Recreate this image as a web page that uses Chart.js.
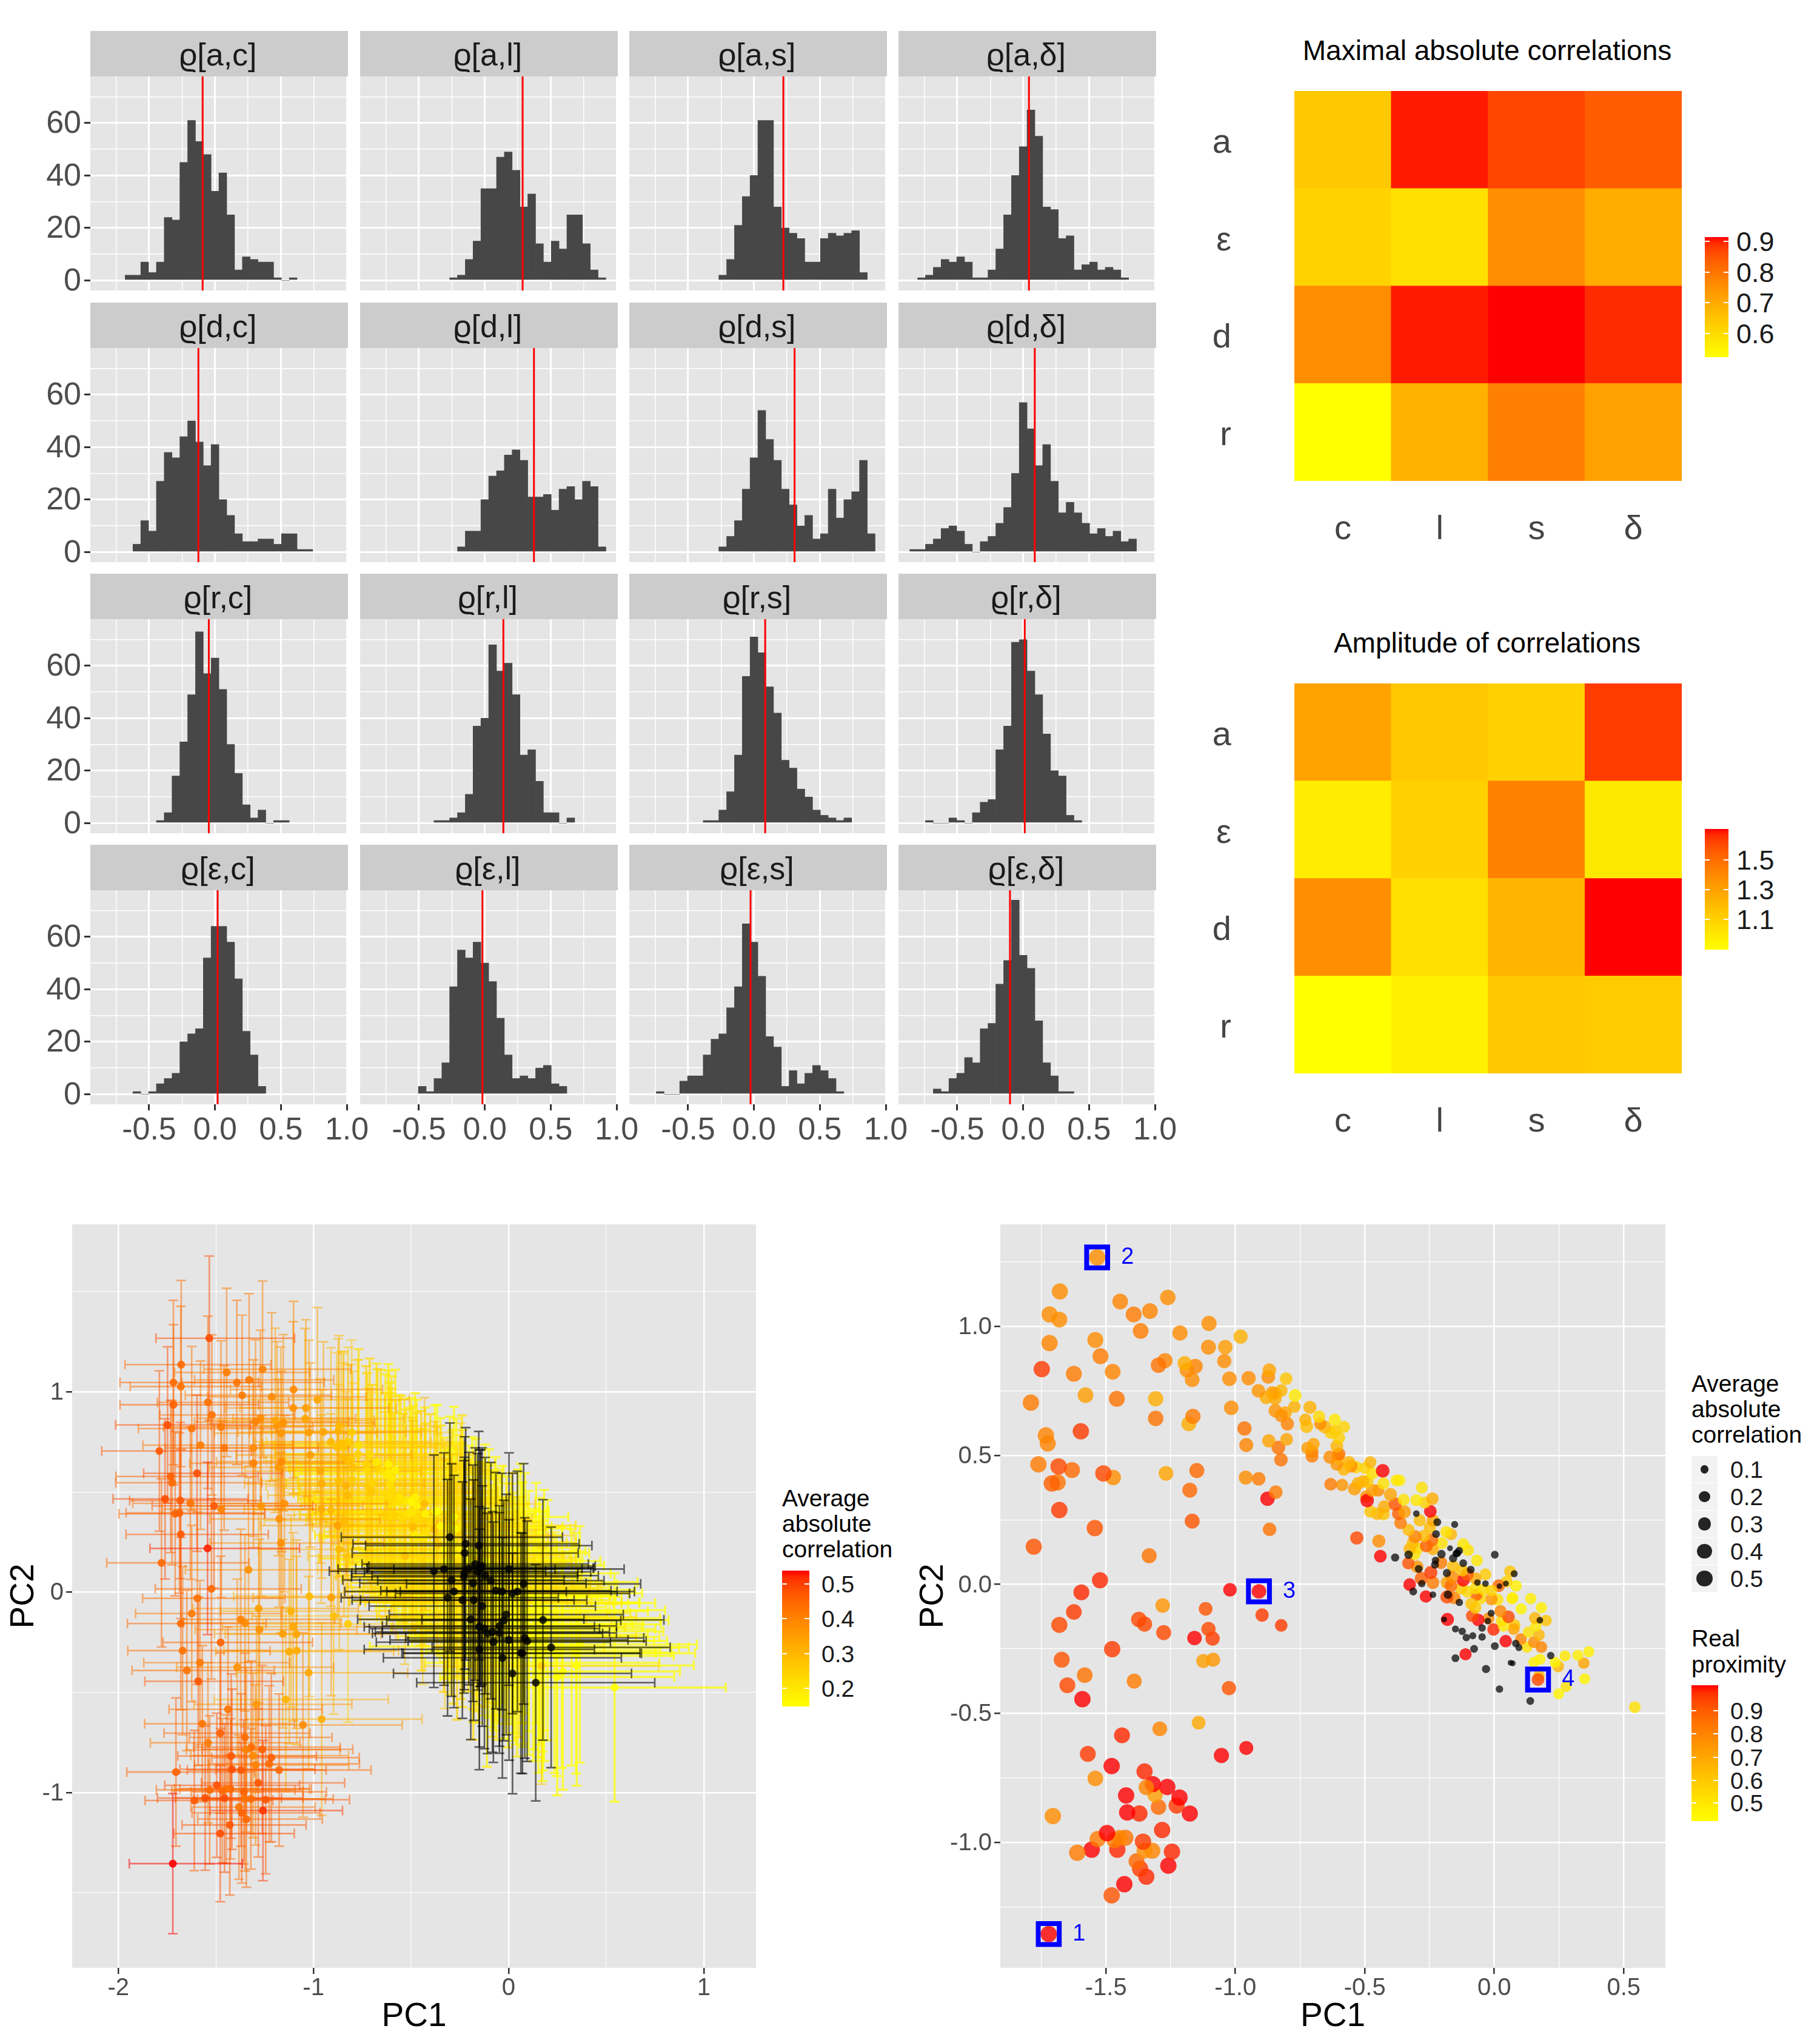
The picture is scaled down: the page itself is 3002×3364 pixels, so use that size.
<!DOCTYPE html>
<html>
<head>
<meta charset="utf-8">
<script src="https://cdn.jsdelivr.net/npm/chart.js"></script>
<style>
html, body { margin: 0; padding: 0; background: #fff; }
#page { position: relative; width: 3002px; height: 3364px; overflow: hidden; background: #fff; }
#page canvas { position: absolute; }
#page div { position: absolute; white-space: nowrap; }
</style>
</head>
<body>
<div id="page"></div>
<script>
// histogram facets: rows and columns of the correlation matrix
const histRows = ['a', 'd', 'r', 'ε'];
const histCols = ['c', 'l', 's', 'δ'];
const binWidth = 0.0593;

// index of first bin of each facet (bin k is centred on k * binWidth)
const firstBin = [
    [-11, -4, -4, -13],
    [-10, -3, -4, -14],
    [-7, -6, -6, -12],
    [-10, -8, -12, -11]
];

const countsAC = [2, 2, 7, 3, 7, 24, 23, 45, 61, 53, 48, 34, 41, 25, 4, 9, 8, 7, 7, 1, 0, 1];
const countsAL = [1, 2, 8, 15, 35, 35, 47, 49, 42, 28, 33, 14, 7, 15, 12, 25, 25, 14, 4, 1];
const countsAS = [2, 8, 21, 32, 40, 61, 61, 28, 20, 18, 16, 7, 7, 16, 18, 17, 18, 19, 3];
const countsAD = [1, 2, 5, 8, 7, 9, 7, 1, 1, 4, 12, 25, 40, 51, 65, 55, 28, 27, 16, 17, 4, 6, 7, 4, 5, 4, 1];
const countsDC = [3, 12, 8, 27, 38, 36, 44, 50, 42, 33, 41, 20, 14, 7, 4, 4, 5, 5, 3, 7, 7, 1, 1];
const countsDL = [2, 8, 8, 20, 29, 31, 37, 39, 35, 21, 21, 22, 16, 24, 25, 20, 27, 25, 2];
const countsDS = [2, 6, 12, 24, 36, 54, 43, 35, 24, 18, 10, 14, 5, 7, 24, 13, 20, 23, 35, 7];
const countsDD = [1, 1, 3, 5, 9, 10, 8, 3, 0, 4, 6, 11, 17, 30, 57, 47, 33, 41, 27, 15, 19, 15, 11, 7, 9, 6, 8, 4, 5];
const countsRC = [1, 4, 18, 31, 49, 73, 57, 63, 51, 30, 19, 7, 2, 5, 0, 1, 1];
const countsRL = [1, 1, 2, 4, 11, 37, 40, 68, 58, 61, 49, 26, 28, 16, 4, 4, 0, 2];
const countsRS = [1, 1, 5, 12, 26, 56, 71, 65, 52, 42, 24, 21, 13, 10, 5, 3, 2, 1, 2];
const countsRD = [1, 0, 0, 2, 1, 0, 4, 8, 9, 28, 37, 69, 70, 58, 49, 34, 20, 18, 3, 1];
const countsEC = [1, 0, 1, 4, 6, 8, 20, 23, 25, 52, 64, 64, 58, 44, 24, 15, 3];
const countsEL = [3, 1, 6, 12, 41, 55, 52, 58, 50, 43, 29, 15, 6, 7, 6, 10, 11, 4, 3];
const countsES = [1, 0, 0, 5, 7, 7, 15, 21, 23, 33, 41, 65, 58, 45, 22, 18, 3, 9, 4, 8, 11, 9, 6, 1];
const countsED = [2, 1, 6, 8, 14, 12, 25, 27, 42, 51, 74, 53, 48, 28, 12, 7, 1, 1];

// red vertical line of each facet
const meanLines = [
    [-0.094, 0.287, 0.223, 0.044],
    [-0.126, 0.373, 0.308, 0.088],
    [-0.047, 0.141, 0.085, 0.012],
    [0.02, -0.018, -0.026, -0.1]
];

const histXTicks = [-0.75, -0.5, -0.25, 0, 0.25, 0.5, 0.75, 1];
const histXLabels = ['', '-0.5', '', '0.0', '', '0.5', '', '1.0'];
const histYTicks = [0, 10, 20, 30, 40, 50, 60, 70];
const histYLabels = ['0', '', '20', '', '40', '', '60', ''];

// heatmaps
const heatCols = ['c', 'l', 's', 'δ'];
const heatRowsTopDown = ['a', 'ε', 'd', 'r'];
const maxCorrA = [0.64, 0.906, 0.87, 0.84];
const maxCorrE = [0.62, 0.59, 0.758, 0.70];
const maxCorrD = [0.758, 0.906, 0.914, 0.895];
const maxCorrR = [0.523, 0.687, 0.781, 0.72];
const ampA = [1.30, 1.14, 1.10, 1.64];
const ampE = [0.98, 1.10, 1.43, 1.0];
const ampD = [1.38, 1.04, 1.22, 1.708];
const ampR = [0.896, 0.96, 1.14, 1.13];

// PCA scatter: one entry per item (first four are the boxed ones)
const pc1 = [
    -1.721, -1.534, -0.909, 0.169,
    -1.678, -1.718, -1.680, -1.445, -1.261, -1.393, -1.330, -1.366, -1.102, -1.541,
    -1.718, -1.214, -1.521, -1.104, -1.039, -0.980, -1.748, -1.624, -1.474, -1.297,
    -1.272, -1.196, -1.187, -1.155, -1.167, -1.043, -1.023, -0.949, -1.790, -1.579,
    -1.458, -1.308, -1.016, -1.308, -1.164, -1.180, -1.597, -1.732, -1.725, -0.965,
    -0.958, -1.761, -1.683, -1.631, -1.510, -1.472, -1.268, -1.149, -1.709, -1.687,
    -0.960, -1.176, -1.680, -1.167, -1.543, -1.779, -1.333, -1.523, -1.595, -1.021,
    -1.281, -1.115, -1.624, -1.680, -1.373, -1.351, -0.897, -0.823, -1.104, -1.277,
    -1.158, -1.088, -1.476, -1.671, -1.124, -1.086, -1.582, -1.391, -1.649, -1.025,
    -1.591, -1.142, -1.292, -1.438, -0.958, -1.054, -1.570, -1.478, -1.351, -1.541,
    -1.344, -1.319, -1.263, -1.310, -1.422, -1.216, -1.297, -1.227, -1.418, -1.371,
    -1.176, -1.705, -1.283, -1.496, -1.532, -1.467, -1.447, -1.425, -1.357, -1.611,
    -1.555, -1.456, -1.351, -1.321, -1.245, -1.382, -1.259, -1.368, -1.344, -1.429,
    -1.478,
    -0.869, -0.873, -0.804, -0.911, -0.881, -0.858, -0.846, -0.823, -0.846, -0.769,
    -0.772, -0.712, -0.846, -0.823, -0.807, -0.799, -0.730, -0.725, -0.677, -0.672,
    -0.655, -0.616, -0.581, -0.616, -0.631, -0.600, -0.608, -0.871, -0.802, -0.834,
    -0.824, -0.698, -0.721, -0.704, -0.704, -0.635, -0.600, -0.604, -0.608, -0.581,
    -0.561, -0.553, -0.534, -0.506, -0.526, -0.540, -0.632, -0.588, -0.910, -0.844,
    -0.876, -0.868, -0.531, -0.479,
    -0.499, -0.431, -0.471, -0.378, -0.366, -0.428, -0.491, -0.471, -0.448, -0.401,
    -0.280, -0.239, -0.350, -0.301, -0.268, -0.382, -0.491, -0.495, -0.424, -0.479,
    -0.452, -0.428, -0.347, -0.247, -0.301, -0.370, -0.362, -0.288, -0.237, -0.220,
    -0.153, -0.249, -0.331, -0.186, -0.167, -0.225, -0.306, -0.272, -0.446, -0.315,
    -0.241, -0.262, -0.202, -0.237, -0.327, -0.296, -0.171, -0.440, -0.383, -0.331,
    -0.307, -0.204, -0.136, -0.147, -0.120, -0.101, -0.227, -0.229, -0.206, -0.332,
    -0.298, -0.292, -0.245, -0.237, -0.282, -0.327, -0.280, -0.313, -0.264, -0.237,
    0.002, -0.067, -0.120, -0.091, -0.183, -0.159, -0.143, -0.163, -0.124, -0.159,
    -0.104, -0.120, -0.073, -0.034, -0.065, -0.034, -0.167, -0.183, -0.128, -0.104,
    -0.073, -0.042, -0.011, 0.017, 0.020, 0.045, 0.048, 0.061, 0.077, 0.084,
    -0.179, -0.183, -0.155, -0.135, -0.089, -0.073, -0.069, -0.054, -0.011, 0.013,
    0.069, 0.071, 0.141, 0.104, 0.182, 0.024, -0.085, -0.062, -0.012, -0.025,
    -0.022, -0.181, -0.194, 0.055, 0.028, 0.036, 0.075, 0.079, 0.157, 0.176,
    0.200, 0.161, 0.132, -0.003, -0.047, -0.150, -0.124, -0.108, -0.083, -0.047,
    0.103, 0.173, 0.153, 0.182, 0.044, 0.083, 0.095, 0.126, 0.002, -0.078,
    -0.111, -0.150, -0.032, 0.063, 0.071, 0.020, 0.139, 0.218, 0.177, 0.153,
    0.235, 0.247, 0.273, 0.323, 0.365, 0.346, 0.349, 0.173, 0.278, 0.249,
    0.543
];
const pc2 = [
    -1.355, 1.267, -0.027, -0.369,
    1.135, 1.046, 1.026, 1.096, 1.112, 1.046, 1.059, 0.982, 1.011, 0.947,
    0.935, 0.974, 0.884, 0.919, 0.919, 0.960, 0.834, 0.816, 0.824, 0.849,
    0.867, 0.857, 0.830, 0.845, 0.793, 0.865, 0.797, 0.799, 0.704, 0.733,
    0.719, 0.719, 0.684, 0.643, 0.651, 0.622, 0.593, 0.577, 0.546, 0.604,
    0.540, 0.465, 0.457, 0.443, 0.430, 0.414, 0.430, 0.441, 0.391, 0.395,
    0.414, 0.365, 0.288, 0.245, 0.218, 0.146, 0.111, 0.016, -0.031, -0.021,
    -0.082, -0.095, -0.107, -0.157, -0.136, -0.154, -0.119, -0.159, -0.173, -0.187,
    -0.208, -0.210, -0.251, -0.292, -0.297, -0.292, -0.352, -0.375, -0.391, -0.402,
    -0.445, -0.536, -0.560, -0.585, -0.634, -0.663, -0.657, -0.704, -0.725, -0.752,
    -0.787, -0.774, -0.785, -0.816, -0.818, -0.826, -0.863, -0.857, -0.884, -0.888,
    -0.888, -0.898, -0.952, -0.964, -0.987, -0.991, -0.982, -0.982, -0.997, -1.040,
    -1.028, -1.028, -1.032, -1.032, -1.036, -1.073, -1.090, -1.102, -1.133, -1.162,
    -1.205,
    0.830, 0.804, 0.797, 0.750, 0.724, 0.742, 0.740, 0.751, 0.720, 0.732,
    0.689, 0.686, 0.673, 0.654, 0.665, 0.622, 0.638, 0.612, 0.650, 0.622,
    0.610, 0.638, 0.610, 0.595, 0.587, 0.567, 0.536, 0.556, 0.562, 0.530,
    0.483, 0.544, 0.528, 0.515, 0.497, 0.493, 0.505, 0.493, 0.466, 0.446,
    0.473, 0.458, 0.454, 0.399, 0.391, 0.370, 0.388, 0.385, 0.409, 0.357,
    0.332, 0.213, 0.180, 0.473,
    0.450, 0.440, 0.430, 0.403, 0.403, 0.391, 0.399, 0.364, 0.364, 0.348,
    0.375, 0.332, 0.328, 0.326, 0.317, 0.311, 0.325, 0.340, 0.301, 0.283,
    0.274, 0.272, 0.281, 0.283, 0.274, 0.274, 0.238, 0.248, 0.248, 0.241,
    0.232, 0.221, 0.211, 0.203, 0.194, 0.195, 0.185, 0.187, 0.168, 0.160,
    0.172, 0.150, 0.160, 0.137, 0.137, 0.140, 0.140, 0.109, 0.104, 0.115,
    0.117, 0.117, 0.130, 0.119, 0.156, 0.133, 0.093, 0.076, 0.084, 0.082,
    0.068, 0.060, 0.046, 0.007, 0.023, -0.001, 0.003, -0.028, -0.047, -0.040,
    0.115, 0.093, 0.082, 0.057, 0.044, 0.101, 0.121, 0.027, 0.054, 0.070,
    0.039, 0.017, 0.023, 0.039, 0.007, 0.003, -0.005, 0.007, -0.016, -0.028,
    -0.016, -0.020, -0.024, -0.005, -0.007, 0.003, 0.011, 0.050, 0.041, -0.006,
    -0.040, -0.049, -0.052, -0.070, -0.075, -0.091, -0.040, -0.055, -0.057, -0.059,
    -0.055, -0.052, -0.055, -0.095, -0.090, -0.104, -0.122, -0.138, -0.112, -0.142,
    -0.132, -0.136, -0.136, -0.126, -0.142, -0.161, -0.173, -0.157, -0.130, -0.139,
    -0.140, -0.161, -0.185, -0.175, -0.169, -0.173, -0.182, -0.206, -0.199, -0.204,
    -0.212, -0.196, -0.224, -0.243, -0.220, -0.229, -0.245, -0.243, -0.239, -0.250,
    -0.271, -0.286, -0.328, -0.304, -0.306, -0.406, -0.452, -0.276, -0.290, -0.302,
    -0.302, -0.318, -0.277, -0.275, -0.261, -0.305, -0.366, -0.353, -0.396, -0.424,
    -0.476
];
const errPc1 = [
    0.31, 0.38, 0.48, 0.60,
    0.40, 0.38, 0.36, 0.37, 0.40, 0.39, 0.38, 0.40, 0.41, 0.36,
    0.38, 0.43, 0.37, 0.44, 0.42, 0.43, 0.37, 0.38, 0.41, 0.42,
    0.43, 0.45, 0.44, 0.42, 0.44, 0.46, 0.45, 0.46, 0.41, 0.41,
    0.42, 0.43, 0.47, 0.44, 0.43, 0.46, 0.38, 0.39, 0.40, 0.47,
    0.48, 0.37, 0.36, 0.41, 0.44, 0.42, 0.46, 0.47, 0.40, 0.38,
    0.48, 0.46, 0.39, 0.47, 0.41, 0.39, 0.44, 0.40, 0.39, 0.48,
    0.45, 0.46, 0.40, 0.38, 0.42, 0.43, 0.50, 0.51, 0.46, 0.44,
    0.45, 0.46, 0.41, 0.39, 0.48, 0.47, 0.40, 0.43, 0.39, 0.46,
    0.38, 0.47, 0.43, 0.42, 0.47, 0.46, 0.41, 0.40, 0.39, 0.41,
    0.42, 0.40, 0.41, 0.43, 0.38, 0.40, 0.42, 0.41, 0.37, 0.38,
    0.42, 0.35, 0.39, 0.37, 0.38, 0.36, 0.37, 0.36, 0.37, 0.35,
    0.34, 0.35, 0.36, 0.37, 0.38, 0.34, 0.36, 0.35, 0.34, 0.34,
    0.33,
    0.46, 0.47, 0.48, 0.47, 0.47, 0.48, 0.49, 0.49, 0.48, 0.50,
    0.49, 0.50, 0.48, 0.49, 0.48, 0.49, 0.50, 0.50, 0.52, 0.51,
    0.52, 0.52, 0.53, 0.53, 0.52, 0.53, 0.52, 0.47, 0.49, 0.48,
    0.48, 0.50, 0.50, 0.51, 0.51, 0.52, 0.52, 0.52, 0.52, 0.53,
    0.53, 0.54, 0.54, 0.54, 0.54, 0.54, 0.52, 0.53, 0.47, 0.48,
    0.47, 0.49, 0.54, 0.55,
    0.55, 0.55, 0.55, 0.56, 0.56, 0.55, 0.55, 0.55, 0.55, 0.56,
    0.58, 0.58, 0.56, 0.57, 0.58, 0.56, 0.55, 0.55, 0.55, 0.55,
    0.55, 0.55, 0.56, 0.58, 0.57, 0.56, 0.57, 0.58, 0.58, 0.58,
    0.58, 0.58, 0.57, 0.58, 0.58, 0.58, 0.58, 0.58, 0.56, 0.58,
    0.58, 0.58, 0.58, 0.58, 0.57, 0.58, 0.58, 0.57, 0.56, 0.56,
    0.57, 0.58, 0.58, 0.58, 0.59, 0.59, 0.58, 0.58, 0.58, 0.57,
    0.57, 0.57, 0.57, 0.57, 0.56, 0.56, 0.57, 0.56, 0.56, 0.57,
    0.59, 0.59, 0.58, 0.58, 0.58, 0.58, 0.58, 0.58, 0.58, 0.58,
    0.58, 0.58, 0.59, 0.59, 0.59, 0.59, 0.58, 0.58, 0.58, 0.58,
    0.59, 0.59, 0.59, 0.60, 0.60, 0.60, 0.60, 0.60, 0.60, 0.60,
    0.58, 0.58, 0.58, 0.58, 0.59, 0.59, 0.59, 0.59, 0.59, 0.60,
    0.60, 0.60, 0.61, 0.61, 0.62, 0.60, 0.59, 0.59, 0.60, 0.60,
    0.60, 0.58, 0.58, 0.60, 0.60, 0.60, 0.61, 0.61, 0.62, 0.62,
    0.62, 0.62, 0.62, 0.60, 0.60, 0.59, 0.59, 0.59, 0.60, 0.60,
    0.61, 0.62, 0.62, 0.63, 0.61, 0.61, 0.61, 0.62, 0.61, 0.60,
    0.60, 0.59, 0.61, 0.61, 0.61, 0.61, 0.61, 0.61, 0.60, 0.60,
    0.60, 0.60, 0.60, 0.60, 0.60, 0.61, 0.60, 0.60, 0.60, 0.60,
    0.57
];
const errPc2 = [
    0.35, 0.41, 0.49, 0.59,
    0.42, 0.41, 0.40, 0.42, 0.44, 0.41, 0.43, 0.40, 0.44, 0.43,
    0.40, 0.42, 0.40, 0.43, 0.44, 0.46, 0.39, 0.41, 0.43, 0.41,
    0.44, 0.46, 0.42, 0.44, 0.43, 0.45, 0.46, 0.45, 0.40, 0.42,
    0.41, 0.44, 0.46, 0.42, 0.45, 0.44, 0.39, 0.38, 0.41, 0.46,
    0.47, 0.40, 0.39, 0.38, 0.41, 0.44, 0.45, 0.44, 0.41, 0.40,
    0.47, 0.44, 0.42, 0.45, 0.43, 0.42, 0.46, 0.45, 0.43, 0.50,
    0.47, 0.48, 0.44, 0.43, 0.45, 0.44, 0.49, 0.49, 0.47, 0.45,
    0.47, 0.47, 0.43, 0.42, 0.46, 0.47, 0.41, 0.44, 0.40, 0.48,
    0.42, 0.46, 0.44, 0.41, 0.48, 0.46, 0.39, 0.40, 0.42, 0.40,
    0.41, 0.43, 0.42, 0.41, 0.41, 0.42, 0.40, 0.39, 0.40, 0.38,
    0.38, 0.37, 0.37, 0.36, 0.37, 0.36, 0.37, 0.35, 0.36, 0.35,
    0.36, 0.37, 0.36, 0.35, 0.37, 0.36, 0.35, 0.35, 0.34, 0.35,
    0.34,
    0.45, 0.46, 0.46, 0.47, 0.47, 0.46, 0.46, 0.47, 0.47, 0.48,
    0.47, 0.48, 0.47, 0.48, 0.47, 0.48, 0.49, 0.48, 0.49, 0.49,
    0.50, 0.50, 0.50, 0.51, 0.50, 0.51, 0.51, 0.48, 0.48, 0.47,
    0.48, 0.49, 0.49, 0.50, 0.50, 0.50, 0.51, 0.50, 0.51, 0.51,
    0.51, 0.52, 0.51, 0.52, 0.52, 0.52, 0.51, 0.51, 0.48, 0.48,
    0.47, 0.50, 0.54, 0.52,
    0.52, 0.53, 0.53, 0.53, 0.53, 0.53, 0.53, 0.53, 0.54, 0.54,
    0.55, 0.55, 0.54, 0.55, 0.55, 0.54, 0.53, 0.53, 0.54, 0.53,
    0.54, 0.54, 0.55, 0.56, 0.57, 0.55, 0.55, 0.56, 0.56, 0.58,
    0.57, 0.56, 0.56, 0.57, 0.57, 0.58, 0.56, 0.56, 0.56, 0.56,
    0.57, 0.57, 0.57, 0.57, 0.57, 0.57, 0.58, 0.57, 0.58, 0.58,
    0.57, 0.58, 0.59, 0.59, 0.58, 0.58, 0.58, 0.58, 0.58, 0.58,
    0.58, 0.58, 0.58, 0.58, 0.58, 0.58, 0.58, 0.59, 0.59, 0.59,
    0.58, 0.58, 0.59, 0.59, 0.59, 0.59, 0.59, 0.59, 0.59, 0.58,
    0.59, 0.59, 0.58, 0.59, 0.59, 0.59, 0.59, 0.59, 0.60, 0.60,
    0.60, 0.60, 0.60, 0.60, 0.60, 0.60, 0.60, 0.59, 0.60, 0.60,
    0.60, 0.60, 0.60, 0.60, 0.60, 0.60, 0.60, 0.60, 0.60, 0.60,
    0.60, 0.60, 0.60, 0.60, 0.60, 0.60, 0.60, 0.60, 0.60, 0.60,
    0.60, 0.60, 0.60, 0.60, 0.60, 0.60, 0.60, 0.60, 0.60, 0.60,
    0.60, 0.60, 0.60, 0.60, 0.60, 0.60, 0.60, 0.60, 0.60, 0.60,
    0.60, 0.60, 0.60, 0.60, 0.60, 0.60, 0.60, 0.60, 0.60, 0.60,
    0.60, 0.60, 0.60, 0.60, 0.60, 0.60, 0.59, 0.60, 0.60, 0.60,
    0.60, 0.60, 0.60, 0.59, 0.59, 0.60, 0.60, 0.59, 0.59, 0.59,
    0.57
];
const avgCorr = [
    0.53, 0.44, 0.34, 0.27,
    0.41, 0.41, 0.40, 0.39, 0.38, 0.40, 0.39, 0.39, 0.37, 0.40,
    0.42, 0.37, 0.40, 0.36, 0.34, 0.33, 0.44, 0.40, 0.39, 0.38,
    0.37, 0.33, 0.35, 0.36, 0.35, 0.33, 0.34, 0.33, 0.43, 0.39,
    0.40, 0.37, 0.34, 0.38, 0.37, 0.35, 0.44, 0.42, 0.41, 0.33,
    0.32, 0.44, 0.43, 0.40, 0.43, 0.38, 0.35, 0.36, 0.42, 0.42,
    0.32, 0.36, 0.43, 0.36, 0.47, 0.41, 0.36, 0.41, 0.40, 0.30,
    0.34, 0.31, 0.39, 0.41, 0.38, 0.37, 0.29, 0.27, 0.33, 0.36,
    0.34, 0.33, 0.42, 0.40, 0.32, 0.32, 0.39, 0.36, 0.40, 0.33,
    0.43, 0.31, 0.35, 0.40, 0.32, 0.37, 0.40, 0.42, 0.41, 0.39,
    0.38, 0.41, 0.42, 0.37, 0.43, 0.42, 0.38, 0.41, 0.44, 0.43,
    0.41, 0.42, 0.43, 0.44, 0.41, 0.41, 0.40, 0.41, 0.42, 0.43,
    0.44, 0.44, 0.40, 0.41, 0.43, 0.40, 0.46, 0.42, 0.41, 0.43,
    0.44,
    0.30, 0.31, 0.27, 0.30, 0.29, 0.29, 0.28, 0.27, 0.28, 0.24,
    0.26, 0.25, 0.30, 0.29, 0.28, 0.29, 0.26, 0.25, 0.22, 0.26,
    0.24, 0.21, 0.21, 0.22, 0.22, 0.22, 0.24, 0.29, 0.27, 0.31,
    0.30, 0.26, 0.27, 0.28, 0.28, 0.25, 0.25, 0.24, 0.25, 0.24,
    0.23, 0.24, 0.22, 0.23, 0.24, 0.25, 0.27, 0.26, 0.30, 0.30,
    0.34, 0.30, 0.29, 0.21,
    0.20, 0.30, 0.21, 0.19, 0.19, 0.21, 0.23, 0.25, 0.26, 0.25,
    0.19, 0.23, 0.20, 0.20, 0.20, 0.29, 0.30, 0.26, 0.24, 0.22,
    0.23, 0.22, 0.24, 0.27, 0.05, 0.28, 0.27, 0.21, 0.23, 0.08,
    0.06, 0.21, 0.21, 0.19, 0.20, 0.08, 0.25, 0.22, 0.25, 0.21,
    0.24, 0.25, 0.19, 0.21, 0.21, 0.19, 0.035, 0.27, 0.09, 0.10,
    0.19, 0.10, 0.08, 0.07, 0.19, 0.19, 0.07, 0.08, 0.23, 0.26,
    0.23, 0.08, 0.25, 0.24, 0.25, 0.27, 0.07, 0.08, 0.26, 0.05,
    0.08, 0.19, 0.08, 0.08, 0.09, 0.09, 0.08, 0.24, 0.21, 0.21,
    0.24, 0.25, 0.21, 0.19, 0.05, 0.05, 0.23, 0.23, 0.20, 0.19,
    0.19, 0.19, 0.19, 0.23, 0.03, 0.035, 0.19, 0.20, 0.06, 0.18,
    0.10, 0.25, 0.23, 0.07, 0.20, 0.20, 0.22, 0.19, 0.22, 0.19,
    0.18, 0.18, 0.17, 0.17, 0.17, 0.21, 0.23, 0.23, 0.06, 0.05,
    0.20, 0.25, 0.035, 0.23, 0.18, 0.18, 0.20, 0.18, 0.19, 0.05,
    0.18, 0.17, 0.17, 0.22, 0.07, 0.06, 0.07, 0.07, 0.06, 0.07,
    0.19, 0.18, 0.19, 0.19, 0.22, 0.07, 0.06, 0.17, 0.08, 0.08,
    0.21, 0.08, 0.09, 0.035, 0.035, 0.07, 0.08, 0.07, 0.16, 0.16,
    0.16, 0.19, 0.16, 0.16, 0.16, 0.18, 0.16, 0.17, 0.16, 0.16,
    0.19
];
// null = the black points
const proximity = [
    0.95, 0.72, 0.92, 0.86,
    0.72, 0.72, 0.72, 0.74, 0.72, 0.76, 0.74, 0.76, 0.72, 0.72,
    0.74, 0.72, 0.76, 0.72, 0.68, 0.63, 0.88, 0.76, 0.74, 0.78,
    0.74, 0.64, 0.72, 0.74, 0.72, 0.72, 0.72, 0.72, 0.76, 0.68,
    0.78, 0.64, 0.72, 0.78, 0.76, 0.64, 0.88, 0.74, 0.74, 0.78,
    0.74, 0.76, 0.86, 0.80, 0.86, 0.72, 0.66, 0.80, 0.82, 0.78,
    0.72, 0.80, 0.88, 0.84, 0.84, 0.84, 0.78, 0.90, 0.90, 0.92,
    0.70, 0.84, 0.88, 0.86, 0.86, 0.86, 0.88, 0.88, 0.86, 0.86,
    0.94, 0.88, 0.88, 0.84, 0.68, 0.70, 0.78, 0.76, 0.86, 0.84,
    0.92, 0.65, 0.74, 0.90, 0.92, 0.94, 0.88, 0.95, 0.90, 0.72,
    0.74, 0.92, 0.92, 0.68, 0.92, 0.92, 0.80, 0.88, 0.98, 0.90,
    0.92, 0.72, 0.90, 0.92, 0.76, 0.76, 0.74, 0.78, 0.88, 0.76,
    0.92, 0.90, 0.72, 0.74, 0.90, 0.80, 0.92, 0.88, 0.90, 0.92,
    0.84,
    0.66, 0.72, 0.58, 0.70, 0.64, 0.68, 0.64, 0.62, 0.65, 0.48,
    0.63, 0.63, 0.70, 0.72, 0.66, 0.74, 0.63, 0.60, 0.52, 0.72,
    0.62, 0.48, 0.54, 0.56, 0.55, 0.55, 0.62, 0.66, 0.66, 0.78,
    0.78, 0.66, 0.68, 0.74, 0.76, 0.72, 0.78, 0.64, 0.70, 0.62,
    0.62, 0.72, 0.54, 0.62, 0.64, 0.68, 0.76, 0.70, 0.76, 0.76,
    0.92, 0.78, 0.86, 0.62,
    0.54, 0.92, 0.50, 0.48, 0.47, 0.50, 0.56, 0.68, 0.72, 0.66,
    0.50, 0.64, 0.50, 0.48, 0.54, 0.84, 0.92, 0.70, 0.64, 0.58,
    0.62, 0.58, 0.68, 0.92, null, 0.82, 0.76, 0.60, 0.66, null,
    null, 0.60, 0.60, 0.50, 0.62, null, 0.74, 0.60, 0.72, 0.60,
    0.80, 0.82, 0.50, 0.64, 0.62, 0.52, null, 0.94, null, null,
    0.50, null, null, null, 0.48, 0.50, null, null, 0.76, 0.84,
    0.70, null, 0.88, 0.76, 0.82, 0.94, null, null, 0.92, null,
    null, 0.48, null, null, null, null, null, 0.72, 0.58, 0.60,
    0.82, 0.92, 0.64, 0.56, null, null, 0.80, 0.68, 0.56, 0.52,
    0.50, 0.52, 0.54, 0.80, null, null, 0.55, 0.58, null, 0.46,
    null, 0.86, 0.74, null, 0.58, 0.56, 0.82, 0.52, 0.70, 0.50,
    0.47, 0.47, 0.47, 0.45, 0.46, 0.74, 0.86, 0.92, null, null,
    0.72, 0.94, null, 0.86, 0.50, 0.48, 0.66, 0.56, 0.62, null,
    0.58, 0.48, 0.50, 0.90, null, null, null, null, null, null,
    0.74, 0.62, 0.72, 0.74, 0.92, null, null, 0.50, null, null,
    0.92, null, null, null, null, null, null, null, 0.46, 0.46,
    0.45, 0.62, 0.48, 0.47, 0.46, 0.66, 0.45, 0.62, 0.50, 0.45,
    0.50
];
const boxedLabels = ['1', '2', '3', '4'];

const leftXTicks = [-2, -1.5, -1, -0.5, 0, 0.5, 1];
const leftXLabels = ['-2', '', '-1', '', '0', '', '1'];
const leftYTicks = [-1.5, -1, -0.5, 0, 0.5, 1, 1.5];
const leftYLabels = ['', '-1', '', '0', '', '1', ''];
const rightXTicks = [-1.75, -1.5, -1.25, -1, -0.75, -0.5, -0.25, 0, 0.25, 0.5];
const rightXLabels = ['', '-1.5', '', '-1.0', '', '-0.5', '', '0.0', '', '0.5'];
const rightYTicks = [-1.25, -1, -0.75, -0.5, -0.25, 0, 0.25, 0.5, 0.75, 1, 1.25];
const rightYLabels = ['', '-1.0', '', '-0.5', '', '0.0', '', '0.5', '', '1.0', ''];
const sizeLegendValues = [0.1, 0.2, 0.3, 0.4, 0.5];

const FONT = '"Liberation Sans", Arial, sans-serif';
const TICK_GREY = '#4d4d4d';
const page = document.getElementById('page');

Chart.defaults.font.family = FONT;
Chart.defaults.animation = false;
Chart.defaults.responsive = false;
Chart.defaults.devicePixelRatio = 1;
Chart.defaults.events = [];
Chart.defaults.plugins.legend.display = false;
Chart.defaults.plugins.tooltip.enabled = false;

// grey panel behind the grid
Chart.register({
    id: 'panelBg',
    beforeDraw(chart, args, opts) {
        if (!opts.color) return;
        const a = chart.chartArea;
        chart.ctx.fillStyle = opts.color;
        chart.ctx.fillRect(a.left, a.top, a.width, a.height);
    }
});

// yellow -> red in Lab, same as ggplot gradient
function labToCss(L, a, b) {
    const fy = (L + 16) / 116, fx = fy + a / 500, fz = fy - b / 200;
    const inv = t => t > 6 / 29 ? t * t * t : 3 * (6 / 29) * (6 / 29) * (t - 4 / 29);
    const X = 0.95047 * inv(fx), Y = inv(fy), Z = 1.08883 * inv(fz);
    const lin = [
        3.2406 * X - 1.5372 * Y - 0.4986 * Z,
        -0.9689 * X + 1.8758 * Y + 0.0415 * Z,
        0.0557 * X - 0.204 * Y + 1.057 * Z
    ];
    return lin.map(c => {
        c = Math.max(0, Math.min(1, c));
        const s = c <= 0.0031308 ? 12.92 * c : 1.055 * Math.pow(c, 1 / 2.4) - 0.055;
        return Math.round(s * 255);
    });
}
function heat(t, alpha) {
    t = Math.max(0, Math.min(1, t));
    const c = labToCss(97.14 + (53.24 - 97.14) * t, -21.55 + (80.09 + 21.55) * t, 94.48 + (67.2 - 94.48) * t);
    return alpha === undefined ? `rgb(${c})` : `rgba(${c},${alpha})`;
}

function addText(text, x, y, size, color, align) {
    const d = document.createElement('div');
    d.textContent = text;
    d.style.cssText = `left:${x}px;top:${y}px;font:${size}px ${FONT};color:${color};line-height:1;` +
        `transform:translate(${align === 'center' ? '-50%' : '0'},-50%);z-index:5`;
    page.appendChild(d);
    return d;
}
function addBox(x, y, w, h, bg) {
    const d = document.createElement('div');
    d.style.cssText = `left:${x}px;top:${y}px;width:${w}px;height:${h}px;background:${bg}`;
    page.appendChild(d);
    return d;
}

function colorBar(x, y, w, h, tickYs, labels, labelX, fontSize) {
    const stops = [];
    for (let i = 0; i <= 20; i++) stops.push(heat(i / 20));
    addBox(x, y, w, h, `linear-gradient(to top, ${stops.join(',')})`);
    tickYs.forEach((ty, i) => {
        addBox(x, ty - 1, 8, 2, '#fff');
        addBox(x + w - 8, ty - 1, 8, 2, '#fff');
        addText(labels[i], labelX, ty, fontSize, '#1a1a1a');
    });
}

// canvas sized so the plot area lands exactly on the given rectangle
function pinnedChart(rect, margins, config) {
    const c = document.createElement('canvas');
    c.width = rect.w + margins.l + margins.r;
    c.height = rect.h + margins.t + margins.b;
    c.style.left = (rect.x - margins.l) + 'px';
    c.style.top = (rect.y - margins.t) + 'px';
    c.style.width = c.width + 'px';
    c.style.height = c.height + 'px';
    page.appendChild(c);
    config.options.layout = { autoPadding: false, padding: { top: margins.t, right: margins.r, left: 0, bottom: 0 } };
    return new Chart(c, config);
}

function gridAxis(o) {
    const isMajor = ctx => o.labels[ctx.index] !== '';
    const horizontal = o.axis === 'x';
    return {
        type: 'linear',
        min: o.min,
        max: o.max,
        offset: false,
        title: o.title || { display: false },
        border: { display: false },
        grid: {
            offset: false,
            color: '#ffffff',
            lineWidth: ctx => isMajor(ctx) ? o.major : o.minor,
            drawTicks: o.showTicks,
            tickLength: 10,
            tickWidth: o.major,
            tickColor: ctx => isMajor(ctx) ? '#333333' : 'rgba(0,0,0,0)'
        },
        ticks: {
            display: o.showTicks,
            autoSkip: false,
            maxRotation: 0,
            minRotation: 0,
            padding: o.pad,
            labelOffset: o.labelOffset || 0,
            color: TICK_GREY,
            font: { size: o.font },
            callback: (v, i) => o.labels[i]
        },
        afterBuildTicks: scale => { scale.ticks = o.values.map(v => ({ value: v })); },
        afterFit: scale => {
            if (horizontal) scale.height = o.size; else scale.width = o.size;
            scale.paddingLeft = scale.paddingRight = scale.paddingTop = scale.paddingBottom = 0;
        }
    };
}

// --- histogram facets ---
const histCounts = [
    [countsAC, countsAL, countsAS, countsAD],
    [countsDC, countsDL, countsDS, countsDD],
    [countsRC, countsRL, countsRS, countsRD],
    [countsEC, countsEL, countsES, countsED]
];
const colLeft = [149, 594, 1038, 1482];
const rowTop = [126, 574, 1021, 1468];
const PANEL_W = 425, PANEL_H = 353, STRIP_H = 75;
const HIST_X = { min: -0.946, max: 1.009 };
const HIST_Y = { min: -3.84, max: 77.8 };

histRows.forEach((rowName, r) => {
    histCols.forEach((colName, c) => {
        addBox(colLeft[c], rowTop[r] - STRIP_H, PANEL_W, STRIP_H, '#cccccc');
        const strip = addText(`ϱ[${rowName},${colName}]`, colLeft[c] + PANEL_W / 2 - 2, rowTop[r] - STRIP_H / 2 + 1, 52, '#1a1a1a', 'center');
        strip.style.fontFamily = FONT + ', "DejaVu Sans"';

        const bars = histCounts[r][c].map((n, i) => ({ x: (firstBin[r][c] + i) * binWidth, y: n }));
        pinnedChart({ x: colLeft[c], y: rowTop[r], w: PANEL_W, h: PANEL_H }, { l: 149, r: 60, t: 0, b: 75 }, {
            type: 'bar',
            data: {
                datasets: [
                    {
                        type: 'line',
                        data: [{ x: meanLines[r][c], y: HIST_Y.min }, { x: meanLines[r][c], y: HIST_Y.max }],
                        borderColor: '#ff0000',
                        borderWidth: 3,
                        pointRadius: 0,
                        order: 1
                    },
                    {
                        type: 'bar',
                        data: bars,
                        backgroundColor: '#474747',
                        borderWidth: 0,
                        barPercentage: 1,
                        categoryPercentage: 1,
                        order: 2
                    }
                ]
            },
            options: {
                plugins: { panelBg: { color: '#e5e5e5' } },
                scales: {
                    x: gridAxis({ axis: 'x', ...HIST_X, values: histXTicks, labels: histXLabels, major: 3, minor: 1.5, font: 52, pad: 2, size: 75, showTicks: r === 3 }),
                    y: gridAxis({ axis: 'y', ...HIST_Y, values: histYTicks, labels: histYLabels, major: 3, minor: 1.5, font: 52, pad: 5, size: 149, showTicks: c === 0, labelOffset: 2 })
                }
            }
        });
    });
});

// --- heatmaps ---
function heatmap(rect, rowsTopDown, domain) {
    const rowsBottomUp = rowsTopDown.slice().reverse();
    const yValues = [0.5, 1.5, 2.5, 3.5];
    const yLabels = heatRowsTopDown.slice().reverse();
    pinnedChart(rect, { l: 200, r: 10, t: 0, b: 120 }, {
        type: 'bar',
        data: {
            labels: heatCols,
            datasets: rowsBottomUp.map(row => ({
                data: heatCols.map(() => 1),
                backgroundColor: row.map(v => heat((v - domain[0]) / (domain[1] - domain[0]))),
                borderWidth: 0,
                barPercentage: 1,
                categoryPercentage: 1
            }))
        },
        options: {
            scales: {
                x: {
                    stacked: true,
                    border: { display: false },
                    grid: { display: false, drawTicks: false },
                    ticks: { color: '#444444', font: { size: 56 }, padding: 47 },
                    afterFit: s => { s.height = 120; s.paddingLeft = s.paddingRight = 0; }
                },
                y: {
                    type: 'linear',
                    stacked: true,
                    min: 0,
                    max: 4,
                    border: { display: false },
                    grid: { display: false, drawTicks: false },
                    ticks: { color: '#444444', font: { size: 56 }, padding: 104, labelOffset: 6, callback: (v, i) => yLabels[i] },
                    afterBuildTicks: s => { s.ticks = yValues.map(v => ({ value: v })); },
                    afterFit: s => { s.width = 200; s.paddingTop = s.paddingBottom = 0; }
                }
            }
        }
    });
}
heatmap({ x: 2135, y: 150, w: 639, h: 643 }, [maxCorrA, maxCorrE, maxCorrD, maxCorrR], [0.523, 0.914]);
heatmap({ x: 2135, y: 1127, w: 639, h: 643 }, [ampA, ampE, ampD, ampR], [0.896, 1.708]);
addText('Maximal absolute correlations', 2453, 83, 46, '#000', 'center');
addText('Amplitude of correlations', 2453, 1060, 46, '#000', 'center');
colorBar(2812, 391, 39, 198, [398, 449, 499, 550], ['0.9', '0.8', '0.7', '0.6'], 2864, 45);
colorBar(2812, 1367, 39, 199, [1418, 1467, 1516], ['1.5', '1.3', '1.1'], 2864, 45);

// --- PCA scatter, left: error bars coloured by average correlation ---
const AVG_MARK_DOMAIN = [0.19, 0.48];
const PROX_MARK_DOMAIN = [0.42, 0.92];
const isBlack = i => proximity[i] === null;
const avgColor = (i, alpha) => isBlack(i) ? `rgba(0,0,0,${alpha})` : heat((avgCorr[i] - AVG_MARK_DOMAIN[0]) / (AVG_MARK_DOMAIN[1] - AVG_MARK_DOMAIN[0]), alpha);
const allIdx = pc1.map((v, i) => i);
const colouredBars = allIdx.filter(i => !isBlack(i)).sort((a, b) => avgCorr[a] - avgCorr[b]);
const blackBars = allIdx.filter(isBlack);

// horizontal bars lean to the right on the far left of the map
function drawErrorBars(chart, list) {
    const { ctx, scales: { x, y } } = chart;
    const cap = 8;
    ctx.save();
    list.forEach(i => {
        const lean = Math.max(0, Math.min(1, (-pc1[i] - 0.2) / 1.2));
        const px = x.getPixelForValue(pc1[i]), py = y.getPixelForValue(pc2[i]);
        const x0 = x.getPixelForValue(pc1[i] - errPc1[i] * (1 - 0.28 * lean));
        const x1 = x.getPixelForValue(pc1[i] + errPc1[i] * (1 + 0.15 * lean));
        const y0 = y.getPixelForValue(pc2[i] - errPc2[i]), y1 = y.getPixelForValue(pc2[i] + errPc2[i]);
        const pale = !isBlack(i) && avgCorr[i] < 0.27;
        ctx.lineWidth = pale ? 3.4 : 2.6;
        ctx.strokeStyle = avgColor(i, isBlack(i) ? 0.6 : (pale ? 0.72 : 0.52));
        ctx.beginPath();
        ctx.moveTo(x0, py); ctx.lineTo(x1, py);
        ctx.moveTo(x0, py - cap); ctx.lineTo(x0, py + cap);
        ctx.moveTo(x1, py - cap); ctx.lineTo(x1, py + cap);
        ctx.moveTo(px, y0); ctx.lineTo(px, y1);
        ctx.moveTo(px - cap, y0); ctx.lineTo(px + cap, y0);
        ctx.moveTo(px - cap, y1); ctx.lineTo(px + cap, y1);
        ctx.stroke();
    });
    ctx.restore();
}
const errorBarsPlugin = {
    id: 'errorBars',
    // dataset 1 (coloured) is drawn first, dataset 0 (black) on top of it
    beforeDatasetDraw(chart, args) {
        if (args.index === 1) drawErrorBars(chart, colouredBars);
        if (args.index === 0) drawErrorBars(chart, blackBars);
    }
};

const axisTitle = (text, bottomPad) => ({ display: true, text, color: '#000', font: { size: 55 }, padding: { top: 7, bottom: bottomPad } });
const colouredIdx = allIdx.filter(i => !isBlack(i)).reverse();
const blackIdx = allIdx.filter(isBlack);
const pointsOf = idx => idx.map(i => ({ x: pc1[i], y: pc2[i] }));

pinnedChart({ x: 119, y: 2019, w: 1128, h: 1226 }, { l: 119, r: 40, t: 0, b: 119 }, {
    type: 'scatter',
    data: {
        datasets: [
            { data: pointsOf(blackIdx), pointRadius: 6.5, pointBorderWidth: 0, pointBackgroundColor: 'rgba(0,0,0,0.8)' },
            { data: pointsOf(colouredIdx), pointRadius: 6.5, pointBorderWidth: 0, pointBackgroundColor: colouredIdx.map(i => avgColor(i, 0.9)) }
        ]
    },
    options: {
        plugins: { panelBg: { color: '#e5e5e5' } },
        scales: {
            x: gridAxis({ axis: 'x', min: -2.237, max: 1.268, values: leftXTicks, labels: leftXLabels, major: 2.5, minor: 1.2, font: 40, pad: 0, size: 119, showTicks: true, title: axisTitle('PC1', 5) }),
            y: gridAxis({ axis: 'y', min: -1.875, max: 1.835, values: leftYTicks, labels: leftYLabels, major: 2.5, minor: 1.2, font: 40, pad: 4, size: 119, showTicks: true, labelOffset: 2, title: axisTitle('PC2', 7) })
        }
    },
    plugins: [errorBarsPlugin]
});
['Average', 'absolute', 'correlation'].forEach((t, i) => addText(t, 1290, 2470 + i * 42, 39, '#000'));
colorBar(1290, 2590, 45, 224, [2612, 2669, 2727, 2784], ['0.5', '0.4', '0.3', '0.2'], 1355, 39);

// --- PCA scatter, right: size = average correlation, colour = proximity ---
const sizeOf = v => 1.75 + 16.6 * Math.sqrt(v);
const markRadius = v => v > 0.25 ? Math.min(13.5, 10 + 23.6 * (Math.sqrt(v) - 0.5)) : sizeOf(v) + 0.7;
const boxedLabelsPlugin = {
    id: 'boxedLabels',
    afterDatasetsDraw(chart) {
        const { ctx, scales: { x, y } } = chart;
        ctx.save();
        ctx.fillStyle = '#0000ff';
        ctx.font = `38px ${FONT}`;
        ctx.textAlign = 'center';
        ctx.textBaseline = 'middle';
        boxedLabels.forEach((t, i) => ctx.fillText(t, x.getPixelForValue(pc1[i]) + 50, y.getPixelForValue(pc2[i])));
        ctx.restore();
    }
};
pinnedChart({ x: 1650, y: 2019, w: 1097, h: 1226 }, { l: 150, r: 40, t: 0, b: 119 }, {
    type: 'scatter',
    data: {
        datasets: [
            { data: pointsOf(boxedLabels.map((t, i) => i)), pointStyle: 'rect', pointRadius: 24.5, pointBorderWidth: 8, pointBorderColor: '#0000ff', pointBackgroundColor: 'rgba(0,0,0,0)' },
            { data: pointsOf(blackIdx), pointRadius: blackIdx.map(i => sizeOf(avgCorr[i])), pointBorderWidth: 0, pointBackgroundColor: 'rgba(0,0,0,0.72)' },
            {
                data: pointsOf(colouredIdx),
                pointRadius: colouredIdx.map(i => markRadius(avgCorr[i])),
                pointBorderWidth: 0,
                pointBackgroundColor: colouredIdx.map(i => heat((proximity[i] - PROX_MARK_DOMAIN[0]) / (PROX_MARK_DOMAIN[1] - PROX_MARK_DOMAIN[0]), 0.8))
            }
        ]
    },
    options: {
        plugins: { panelBg: { color: '#e5e5e5' } },
        scales: {
            x: gridAxis({ axis: 'x', min: -1.908, max: 0.661, values: rightXTicks, labels: rightXLabels, major: 2.5, minor: 1.2, font: 40, pad: 0, size: 119, showTicks: true, title: axisTitle('PC1', 5) }),
            y: gridAxis({ axis: 'y', min: -1.486, max: 1.395, values: rightYTicks, labels: rightYLabels, major: 2.5, minor: 1.2, font: 40, pad: 4, size: 150, showTicks: true, labelOffset: 2, title: axisTitle('PC2', 3) })
        }
    },
    plugins: [boxedLabelsPlugin]
});
['Average', 'absolute', 'correlation'].forEach((t, i) => addText(t, 2790, 2281 + i * 42, 39, '#000'));
sizeLegendValues.forEach((v, i) => {
    const cy = 2423 + i * 45;
    addBox(2790, cy - 22, 43, 44, '#f2f2f2');
    const r = sizeOf(v);
    const dot = addBox(2811.5 - r, cy - r, 2 * r, 2 * r, 'rgba(0,0,0,0.85)');
    dot.style.borderRadius = '50%';
    addText(v.toFixed(1), 2854, cy, 39, '#1a1a1a');
});
['Real', 'proximity'].forEach((t, i) => addText(t, 2790, 2701 + i * 43, 39, '#000'));
colorBar(2790, 2779, 44, 224, [2821, 2859, 2898, 2936, 2973], ['0.9', '0.8', '0.7', '0.6', '0.5'], 2854, 39);
</script>
</body>
</html>
